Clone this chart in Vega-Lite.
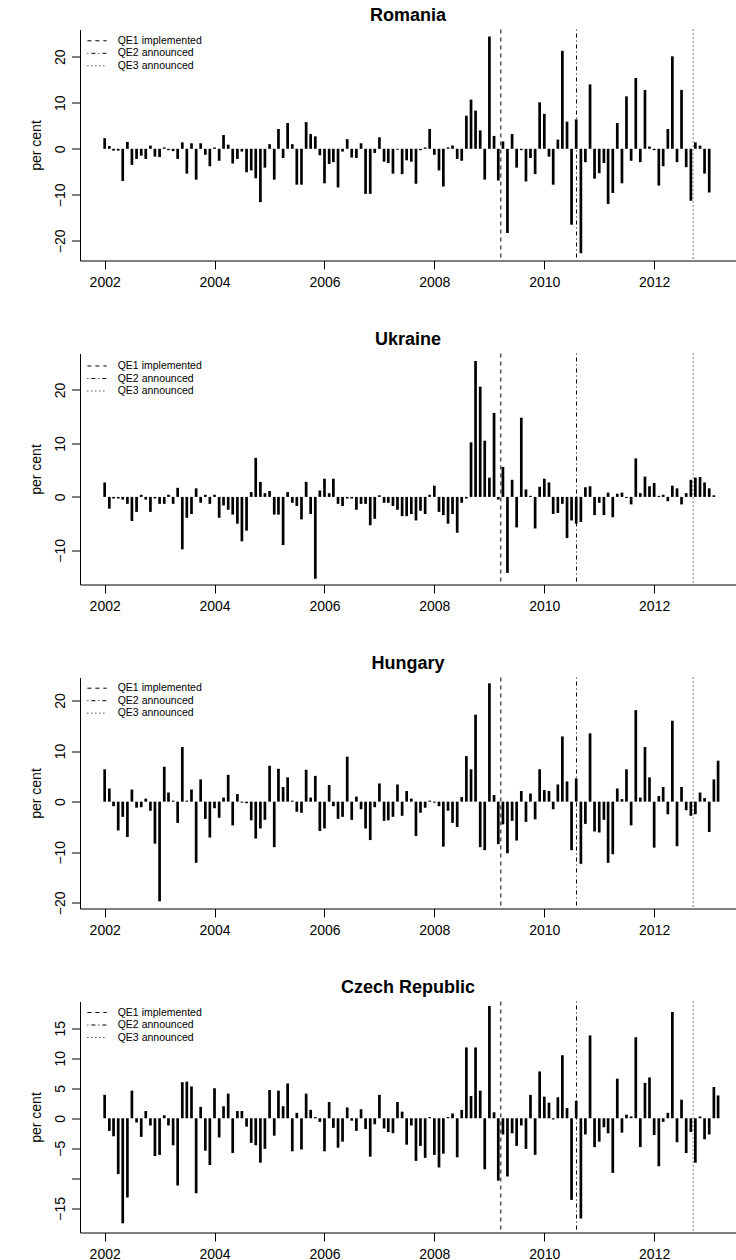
{
"$schema": "https://vega.github.io/schema/vega-lite/v6.json",
"padding": {"left": 29, "top": 6.5, "right": 0, "bottom": 0},
"background": "white",
"config": {
  "font": "Liberation Sans",
  "view": {"stroke": null},
  "axis": {"grid": false, "domainColor": "black", "tickColor": "black", "labelColor": "black", "titleColor": "black", "labelFont": "Liberation Sans", "titleFont": "Liberation Sans", "labelFontSize": 14, "titleFontSize": 14, "titleFontWeight": "normal", "tickSize": 8.5, "domainWidth": 1, "tickWidth": 1},
  "title": {"font": "Liberation Sans", "fontSize": 18, "fontWeight": "bold", "anchor": "middle", "baseline": "alphabetic", "offset": 4, "color": "black"}
},
"datasets": {
"qe": [
{"e": "QE1 implemented", "d": "2009-03-18"},
{"e": "QE2 announced", "d": "2010-08-03"},
{"e": "QE3 announced", "d": "2012-09-16"}
],
"bars": [
{"c":"RO","m":"2002-01","v":2.3},{"c":"RO","m":"2002-02","v":0.6},{"c":"RO","m":"2002-03","v":-0.4},{"c":"RO","m":"2002-04","v":-0.4},{"c":"RO","m":"2002-05","v":-7.0},{"c":"RO","m":"2002-06","v":1.5},{"c":"RO","m":"2002-07","v":-3.5},{"c":"RO","m":"2002-08","v":-2.2},{"c":"RO","m":"2002-09","v":-1.5},{"c":"RO","m":"2002-10","v":-2.2},{"c":"RO","m":"2002-11","v":0.7},{"c":"RO","m":"2002-12","v":-1.7},
{"c":"RO","m":"2003-01","v":-1.8},{"c":"RO","m":"2003-02","v":0.3},{"c":"RO","m":"2003-03","v":-0.3},{"c":"RO","m":"2003-04","v":-0.5},{"c":"RO","m":"2003-05","v":-2.2},{"c":"RO","m":"2003-06","v":1.4},{"c":"RO","m":"2003-07","v":-5.4},{"c":"RO","m":"2003-08","v":1.2},{"c":"RO","m":"2003-09","v":-6.7},{"c":"RO","m":"2003-10","v":1.2},{"c":"RO","m":"2003-11","v":-1.3},{"c":"RO","m":"2003-12","v":-3.8},
{"c":"RO","m":"2004-01","v":0.3},{"c":"RO","m":"2004-02","v":-2.6},{"c":"RO","m":"2004-03","v":3.0},{"c":"RO","m":"2004-04","v":0.9},{"c":"RO","m":"2004-05","v":-3.2},{"c":"RO","m":"2004-06","v":-2.2},{"c":"RO","m":"2004-07","v":-0.6},{"c":"RO","m":"2004-08","v":-5.1},{"c":"RO","m":"2004-09","v":-4.7},{"c":"RO","m":"2004-10","v":-6.4},{"c":"RO","m":"2004-11","v":-11.6},{"c":"RO","m":"2004-12","v":-4.1},
{"c":"RO","m":"2005-01","v":1.0},{"c":"RO","m":"2005-02","v":-6.7},{"c":"RO","m":"2005-03","v":4.3},{"c":"RO","m":"2005-04","v":-2.0},{"c":"RO","m":"2005-05","v":5.6},{"c":"RO","m":"2005-06","v":1.0},{"c":"RO","m":"2005-07","v":-7.8},{"c":"RO","m":"2005-08","v":-7.8},{"c":"RO","m":"2005-09","v":5.8},{"c":"RO","m":"2005-10","v":3.2},{"c":"RO","m":"2005-11","v":2.7},{"c":"RO","m":"2005-12","v":-1.4},
{"c":"RO","m":"2006-01","v":-7.5},{"c":"RO","m":"2006-02","v":-3.3},{"c":"RO","m":"2006-03","v":-2.9},{"c":"RO","m":"2006-04","v":-8.4},{"c":"RO","m":"2006-05","v":-0.6},{"c":"RO","m":"2006-06","v":2.1},{"c":"RO","m":"2006-07","v":-1.9},{"c":"RO","m":"2006-08","v":-2.0},{"c":"RO","m":"2006-09","v":1.2},{"c":"RO","m":"2006-10","v":-9.8},{"c":"RO","m":"2006-11","v":-9.8},{"c":"RO","m":"2006-12","v":-0.9},
{"c":"RO","m":"2007-01","v":2.5},{"c":"RO","m":"2007-02","v":-2.8},{"c":"RO","m":"2007-03","v":-3.1},{"c":"RO","m":"2007-04","v":-5.4},{"c":"RO","m":"2007-05","v":-0.2},{"c":"RO","m":"2007-06","v":-5.5},{"c":"RO","m":"2007-07","v":-2.5},{"c":"RO","m":"2007-08","v":-2.8},{"c":"RO","m":"2007-09","v":-7.6},{"c":"RO","m":"2007-10","v":-0.3},{"c":"RO","m":"2007-11","v":0.3},{"c":"RO","m":"2007-12","v":4.3},
{"c":"RO","m":"2008-01","v":-1.3},{"c":"RO","m":"2008-02","v":-4.7},{"c":"RO","m":"2008-03","v":-8.2},{"c":"RO","m":"2008-04","v":0.3},{"c":"RO","m":"2008-05","v":0.7},{"c":"RO","m":"2008-06","v":-2.2},{"c":"RO","m":"2008-07","v":-2.6},{"c":"RO","m":"2008-08","v":7.2},{"c":"RO","m":"2008-09","v":10.7},{"c":"RO","m":"2008-10","v":8.3},{"c":"RO","m":"2008-11","v":4.0},{"c":"RO","m":"2008-12","v":-6.7},
{"c":"RO","m":"2009-01","v":24.4},{"c":"RO","m":"2009-02","v":2.8},{"c":"RO","m":"2009-03","v":-6.9},{"c":"RO","m":"2009-04","v":1.6},{"c":"RO","m":"2009-05","v":-18.3},{"c":"RO","m":"2009-06","v":3.2},{"c":"RO","m":"2009-07","v":-4.1},{"c":"RO","m":"2009-08","v":-0.3},{"c":"RO","m":"2009-09","v":-7.1},{"c":"RO","m":"2009-10","v":-2.0},{"c":"RO","m":"2009-11","v":-5.5},{"c":"RO","m":"2009-12","v":10.1},
{"c":"RO","m":"2010-01","v":7.6},{"c":"RO","m":"2010-02","v":-1.7},{"c":"RO","m":"2010-03","v":-7.8},{"c":"RO","m":"2010-04","v":2.0},{"c":"RO","m":"2010-05","v":21.3},{"c":"RO","m":"2010-06","v":5.9},{"c":"RO","m":"2010-07","v":-16.5},{"c":"RO","m":"2010-08","v":6.4},{"c":"RO","m":"2010-09","v":-22.7},{"c":"RO","m":"2010-10","v":-2.9},{"c":"RO","m":"2010-11","v":14.0},{"c":"RO","m":"2010-12","v":-6.5},
{"c":"RO","m":"2011-01","v":-5.3},{"c":"RO","m":"2011-02","v":-3.1},{"c":"RO","m":"2011-03","v":-12.0},{"c":"RO","m":"2011-04","v":-9.6},{"c":"RO","m":"2011-05","v":5.6},{"c":"RO","m":"2011-06","v":-7.5},{"c":"RO","m":"2011-07","v":11.4},{"c":"RO","m":"2011-08","v":-2.6},{"c":"RO","m":"2011-09","v":15.4},{"c":"RO","m":"2011-10","v":-2.9},{"c":"RO","m":"2011-11","v":12.8},{"c":"RO","m":"2011-12","v":0.5},
{"c":"RO","m":"2012-01","v":-0.3},{"c":"RO","m":"2012-02","v":-8.0},{"c":"RO","m":"2012-03","v":-3.8},{"c":"RO","m":"2012-04","v":4.3},{"c":"RO","m":"2012-05","v":20.1},{"c":"RO","m":"2012-06","v":-2.9},{"c":"RO","m":"2012-07","v":12.8},{"c":"RO","m":"2012-08","v":-4.0},{"c":"RO","m":"2012-09","v":-11.3},{"c":"RO","m":"2012-10","v":1.4},{"c":"RO","m":"2012-11","v":0.7},{"c":"RO","m":"2012-12","v":-5.4},
{"c":"RO","m":"2013-01","v":-9.5},
{"c":"UA","m":"2002-01","v":2.7},{"c":"UA","m":"2002-02","v":-2.2},{"c":"UA","m":"2002-03","v":-0.3},{"c":"UA","m":"2002-04","v":-0.3},{"c":"UA","m":"2002-05","v":-0.5},{"c":"UA","m":"2002-06","v":-1.3},{"c":"UA","m":"2002-07","v":-4.5},{"c":"UA","m":"2002-08","v":-2.8},{"c":"UA","m":"2002-09","v":0.4},{"c":"UA","m":"2002-10","v":-0.5},{"c":"UA","m":"2002-11","v":-2.8},{"c":"UA","m":"2002-12","v":-0.3},
{"c":"UA","m":"2003-01","v":-1.3},{"c":"UA","m":"2003-02","v":-1.3},{"c":"UA","m":"2003-03","v":0.4},{"c":"UA","m":"2003-04","v":-1.3},{"c":"UA","m":"2003-05","v":1.7},{"c":"UA","m":"2003-06","v":-9.8},{"c":"UA","m":"2003-07","v":-3.9},{"c":"UA","m":"2003-08","v":-3.2},{"c":"UA","m":"2003-09","v":1.6},{"c":"UA","m":"2003-10","v":-1.1},{"c":"UA","m":"2003-11","v":0.4},{"c":"UA","m":"2003-12","v":-1.3},
{"c":"UA","m":"2004-01","v":0.4},{"c":"UA","m":"2004-02","v":-3.9},{"c":"UA","m":"2004-03","v":-1.6},{"c":"UA","m":"2004-04","v":-2.4},{"c":"UA","m":"2004-05","v":-3.3},{"c":"UA","m":"2004-06","v":-5.0},{"c":"UA","m":"2004-07","v":-8.3},{"c":"UA","m":"2004-08","v":-6.3},{"c":"UA","m":"2004-09","v":0.9},{"c":"UA","m":"2004-10","v":7.3},{"c":"UA","m":"2004-11","v":2.8},{"c":"UA","m":"2004-12","v":0.7},
{"c":"UA","m":"2005-01","v":1.1},{"c":"UA","m":"2005-02","v":-3.3},{"c":"UA","m":"2005-03","v":-3.3},{"c":"UA","m":"2005-04","v":-9.0},{"c":"UA","m":"2005-05","v":0.9},{"c":"UA","m":"2005-06","v":-1.1},{"c":"UA","m":"2005-07","v":-1.7},{"c":"UA","m":"2005-08","v":-4.2},{"c":"UA","m":"2005-09","v":2.8},{"c":"UA","m":"2005-10","v":-3.2},{"c":"UA","m":"2005-11","v":-15.3},{"c":"UA","m":"2005-12","v":1.2},
{"c":"UA","m":"2006-01","v":3.4},{"c":"UA","m":"2006-02","v":0.7},{"c":"UA","m":"2006-03","v":3.4},{"c":"UA","m":"2006-04","v":-1.3},{"c":"UA","m":"2006-05","v":-1.7},{"c":"UA","m":"2006-06","v":-0.3},{"c":"UA","m":"2006-07","v":-0.3},{"c":"UA","m":"2006-08","v":-2.4},{"c":"UA","m":"2006-09","v":-1.3},{"c":"UA","m":"2006-10","v":-1.3},{"c":"UA","m":"2006-11","v":-5.3},{"c":"UA","m":"2006-12","v":-4.1},
{"c":"UA","m":"2007-01","v":0.3},{"c":"UA","m":"2007-02","v":-1.1},{"c":"UA","m":"2007-03","v":-1.1},{"c":"UA","m":"2007-04","v":-1.7},{"c":"UA","m":"2007-05","v":-2.4},{"c":"UA","m":"2007-06","v":-3.6},{"c":"UA","m":"2007-07","v":-3.6},{"c":"UA","m":"2007-08","v":-3.2},{"c":"UA","m":"2007-09","v":-4.4},{"c":"UA","m":"2007-10","v":-2.6},{"c":"UA","m":"2007-11","v":-3.2},{"c":"UA","m":"2007-12","v":0.4},
{"c":"UA","m":"2008-01","v":2.1},{"c":"UA","m":"2008-02","v":-2.8},{"c":"UA","m":"2008-03","v":-3.4},{"c":"UA","m":"2008-04","v":-5.0},{"c":"UA","m":"2008-05","v":-3.2},{"c":"UA","m":"2008-06","v":-6.7},{"c":"UA","m":"2008-07","v":-1.1},{"c":"UA","m":"2008-08","v":-0.3},{"c":"UA","m":"2008-09","v":10.2},{"c":"UA","m":"2008-10","v":25.4},{"c":"UA","m":"2008-11","v":20.6},{"c":"UA","m":"2008-12","v":10.5},
{"c":"UA","m":"2009-01","v":3.6},{"c":"UA","m":"2009-02","v":15.7},{"c":"UA","m":"2009-03","v":-0.5},{"c":"UA","m":"2009-04","v":5.6},{"c":"UA","m":"2009-05","v":-14.2},{"c":"UA","m":"2009-06","v":3.2},{"c":"UA","m":"2009-07","v":-5.7},{"c":"UA","m":"2009-08","v":14.8},{"c":"UA","m":"2009-09","v":1.4},{"c":"UA","m":"2009-10","v":0.2},{"c":"UA","m":"2009-11","v":-5.9},{"c":"UA","m":"2009-12","v":1.9},
{"c":"UA","m":"2010-01","v":3.4},{"c":"UA","m":"2010-02","v":2.7},{"c":"UA","m":"2010-03","v":-3.2},{"c":"UA","m":"2010-04","v":-3.0},{"c":"UA","m":"2010-05","v":-1.3},{"c":"UA","m":"2010-06","v":-7.7},{"c":"UA","m":"2010-07","v":-4.4},{"c":"UA","m":"2010-08","v":-5.0},{"c":"UA","m":"2010-09","v":-4.7},{"c":"UA","m":"2010-10","v":1.8},{"c":"UA","m":"2010-11","v":2.0},{"c":"UA","m":"2010-12","v":-3.4},
{"c":"UA","m":"2011-01","v":-1.1},{"c":"UA","m":"2011-02","v":-3.4},{"c":"UA","m":"2011-03","v":0.8},{"c":"UA","m":"2011-04","v":-3.8},{"c":"UA","m":"2011-05","v":0.6},{"c":"UA","m":"2011-06","v":0.8},{"c":"UA","m":"2011-07","v":-0.2},{"c":"UA","m":"2011-08","v":-1.4},{"c":"UA","m":"2011-09","v":7.2},{"c":"UA","m":"2011-10","v":0.7},{"c":"UA","m":"2011-11","v":3.8},{"c":"UA","m":"2011-12","v":2.0},
{"c":"UA","m":"2012-01","v":2.6},{"c":"UA","m":"2012-02","v":0.2},{"c":"UA","m":"2012-03","v":0.4},{"c":"UA","m":"2012-04","v":-0.8},{"c":"UA","m":"2012-05","v":2.1},{"c":"UA","m":"2012-06","v":1.6},{"c":"UA","m":"2012-07","v":-1.4},{"c":"UA","m":"2012-08","v":0.7},{"c":"UA","m":"2012-09","v":3.2},{"c":"UA","m":"2012-10","v":3.6},{"c":"UA","m":"2012-11","v":3.7},{"c":"UA","m":"2012-12","v":2.7},
{"c":"UA","m":"2013-01","v":1.6},{"c":"UA","m":"2013-02","v":0.3},
{"c":"HU","m":"2002-01","v":6.4},{"c":"HU","m":"2002-02","v":2.6},{"c":"HU","m":"2002-03","v":-0.9},{"c":"HU","m":"2002-04","v":-5.7},{"c":"HU","m":"2002-05","v":-3.0},{"c":"HU","m":"2002-06","v":-7.0},{"c":"HU","m":"2002-07","v":2.4},{"c":"HU","m":"2002-08","v":-1.2},{"c":"HU","m":"2002-09","v":-1.1},{"c":"HU","m":"2002-10","v":0.6},{"c":"HU","m":"2002-11","v":-1.8},{"c":"HU","m":"2002-12","v":-8.3},
{"c":"HU","m":"2003-01","v":-19.7},{"c":"HU","m":"2003-02","v":6.9},{"c":"HU","m":"2003-03","v":1.8},{"c":"HU","m":"2003-04","v":0.2},{"c":"HU","m":"2003-05","v":-4.2},{"c":"HU","m":"2003-06","v":10.8},{"c":"HU","m":"2003-07","v":0.2},{"c":"HU","m":"2003-08","v":2.4},{"c":"HU","m":"2003-09","v":-12.1},{"c":"HU","m":"2003-10","v":4.4},{"c":"HU","m":"2003-11","v":-3.4},{"c":"HU","m":"2003-12","v":-7.1},
{"c":"HU","m":"2004-01","v":-1.3},{"c":"HU","m":"2004-02","v":-3.2},{"c":"HU","m":"2004-03","v":0.8},{"c":"HU","m":"2004-04","v":5.3},{"c":"HU","m":"2004-05","v":-4.7},{"c":"HU","m":"2004-06","v":1.5},{"c":"HU","m":"2004-07","v":-0.2},{"c":"HU","m":"2004-08","v":-0.3},{"c":"HU","m":"2004-09","v":-3.7},{"c":"HU","m":"2004-10","v":-7.3},{"c":"HU","m":"2004-11","v":-5.3},{"c":"HU","m":"2004-12","v":-3.6},
{"c":"HU","m":"2005-01","v":7.1},{"c":"HU","m":"2005-02","v":-9.0},{"c":"HU","m":"2005-03","v":6.5},{"c":"HU","m":"2005-04","v":2.9},{"c":"HU","m":"2005-05","v":4.8},{"c":"HU","m":"2005-06","v":0.2},{"c":"HU","m":"2005-07","v":-2.0},{"c":"HU","m":"2005-08","v":-2.2},{"c":"HU","m":"2005-09","v":6.3},{"c":"HU","m":"2005-10","v":0.8},{"c":"HU","m":"2005-11","v":5.1},{"c":"HU","m":"2005-12","v":-5.8},
{"c":"HU","m":"2006-01","v":-5.3},{"c":"HU","m":"2006-02","v":3.3},{"c":"HU","m":"2006-03","v":-0.9},{"c":"HU","m":"2006-04","v":-3.4},{"c":"HU","m":"2006-05","v":-3.0},{"c":"HU","m":"2006-06","v":8.9},{"c":"HU","m":"2006-07","v":-3.6},{"c":"HU","m":"2006-08","v":1.0},{"c":"HU","m":"2006-09","v":-1.5},{"c":"HU","m":"2006-10","v":-5.3},{"c":"HU","m":"2006-11","v":-7.6},{"c":"HU","m":"2006-12","v":-1.1},
{"c":"HU","m":"2007-01","v":3.6},{"c":"HU","m":"2007-02","v":-3.8},{"c":"HU","m":"2007-03","v":-3.7},{"c":"HU","m":"2007-04","v":-3.0},{"c":"HU","m":"2007-05","v":3.4},{"c":"HU","m":"2007-06","v":-2.8},{"c":"HU","m":"2007-07","v":2.1},{"c":"HU","m":"2007-08","v":0.6},{"c":"HU","m":"2007-09","v":-6.8},{"c":"HU","m":"2007-10","v":-2.2},{"c":"HU","m":"2007-11","v":-1.2},{"c":"HU","m":"2007-12","v":0.2},
{"c":"HU","m":"2008-01","v":-0.2},{"c":"HU","m":"2008-02","v":-0.9},{"c":"HU","m":"2008-03","v":-8.9},{"c":"HU","m":"2008-04","v":-1.8},{"c":"HU","m":"2008-05","v":-4.2},{"c":"HU","m":"2008-06","v":-5.0},{"c":"HU","m":"2008-07","v":0.9},{"c":"HU","m":"2008-08","v":9.0},{"c":"HU","m":"2008-09","v":6.4},{"c":"HU","m":"2008-10","v":17.2},{"c":"HU","m":"2008-11","v":-9.0},{"c":"HU","m":"2008-12","v":-9.6},
{"c":"HU","m":"2009-01","v":23.4},{"c":"HU","m":"2009-02","v":1.3},{"c":"HU","m":"2009-03","v":-8.4},{"c":"HU","m":"2009-04","v":-4.5},{"c":"HU","m":"2009-05","v":-10.2},{"c":"HU","m":"2009-06","v":-3.8},{"c":"HU","m":"2009-07","v":-7.7},{"c":"HU","m":"2009-08","v":2.1},{"c":"HU","m":"2009-09","v":-4.0},{"c":"HU","m":"2009-10","v":1.6},{"c":"HU","m":"2009-11","v":-3.5},{"c":"HU","m":"2009-12","v":6.4},
{"c":"HU","m":"2010-01","v":2.3},{"c":"HU","m":"2010-02","v":2.1},{"c":"HU","m":"2010-03","v":-1.5},{"c":"HU","m":"2010-04","v":3.4},{"c":"HU","m":"2010-05","v":12.9},{"c":"HU","m":"2010-06","v":4.0},{"c":"HU","m":"2010-07","v":-9.6},{"c":"HU","m":"2010-08","v":4.6},{"c":"HU","m":"2010-09","v":-12.3},{"c":"HU","m":"2010-10","v":-4.4},{"c":"HU","m":"2010-11","v":13.5},{"c":"HU","m":"2010-12","v":-5.9},
{"c":"HU","m":"2011-01","v":-6.1},{"c":"HU","m":"2011-02","v":-3.6},{"c":"HU","m":"2011-03","v":-12.1},{"c":"HU","m":"2011-04","v":-10.4},{"c":"HU","m":"2011-05","v":2.6},{"c":"HU","m":"2011-06","v":0.5},{"c":"HU","m":"2011-07","v":6.4},{"c":"HU","m":"2011-08","v":-4.7},{"c":"HU","m":"2011-09","v":18.1},{"c":"HU","m":"2011-10","v":0.8},{"c":"HU","m":"2011-11","v":10.8},{"c":"HU","m":"2011-12","v":4.8},
{"c":"HU","m":"2012-01","v":-9.1},{"c":"HU","m":"2012-02","v":1.1},{"c":"HU","m":"2012-03","v":2.9},{"c":"HU","m":"2012-04","v":-2.5},{"c":"HU","m":"2012-05","v":16.0},{"c":"HU","m":"2012-06","v":-8.8},{"c":"HU","m":"2012-07","v":2.9},{"c":"HU","m":"2012-08","v":-1.7},{"c":"HU","m":"2012-09","v":-2.8},{"c":"HU","m":"2012-10","v":-2.5},{"c":"HU","m":"2012-11","v":1.8},{"c":"HU","m":"2012-12","v":0.7},
{"c":"HU","m":"2013-01","v":-6.0},{"c":"HU","m":"2013-02","v":4.4},{"c":"HU","m":"2013-03","v":8.1},
{"c":"CZ","m":"2002-01","v":3.9},{"c":"CZ","m":"2002-02","v":-2.1},{"c":"CZ","m":"2002-03","v":-3.0},{"c":"CZ","m":"2002-04","v":-9.3},{"c":"CZ","m":"2002-05","v":-17.5},{"c":"CZ","m":"2002-06","v":-13.2},{"c":"CZ","m":"2002-07","v":4.6},{"c":"CZ","m":"2002-08","v":-0.7},{"c":"CZ","m":"2002-09","v":-3.1},{"c":"CZ","m":"2002-10","v":1.2},{"c":"CZ","m":"2002-11","v":-1.2},{"c":"CZ","m":"2002-12","v":-6.3},
{"c":"CZ","m":"2003-01","v":-6.1},{"c":"CZ","m":"2003-02","v":0.5},{"c":"CZ","m":"2003-03","v":-1.2},{"c":"CZ","m":"2003-04","v":-4.5},{"c":"CZ","m":"2003-05","v":-11.2},{"c":"CZ","m":"2003-06","v":6.0},{"c":"CZ","m":"2003-07","v":6.1},{"c":"CZ","m":"2003-08","v":5.3},{"c":"CZ","m":"2003-09","v":-12.5},{"c":"CZ","m":"2003-10","v":1.9},{"c":"CZ","m":"2003-11","v":-5.4},{"c":"CZ","m":"2003-12","v":-7.8},
{"c":"CZ","m":"2004-01","v":5.0},{"c":"CZ","m":"2004-02","v":-3.2},{"c":"CZ","m":"2004-03","v":2.0},{"c":"CZ","m":"2004-04","v":4.1},{"c":"CZ","m":"2004-05","v":-5.8},{"c":"CZ","m":"2004-06","v":1.2},{"c":"CZ","m":"2004-07","v":1.2},{"c":"CZ","m":"2004-08","v":-1.4},{"c":"CZ","m":"2004-09","v":-4.1},{"c":"CZ","m":"2004-10","v":-4.5},{"c":"CZ","m":"2004-11","v":-7.4},{"c":"CZ","m":"2004-12","v":-5.1},
{"c":"CZ","m":"2005-01","v":4.7},{"c":"CZ","m":"2005-02","v":-2.9},{"c":"CZ","m":"2005-03","v":4.6},{"c":"CZ","m":"2005-04","v":2.0},{"c":"CZ","m":"2005-05","v":5.8},{"c":"CZ","m":"2005-06","v":-5.5},{"c":"CZ","m":"2005-07","v":0.9},{"c":"CZ","m":"2005-08","v":-5.2},{"c":"CZ","m":"2005-09","v":4.1},{"c":"CZ","m":"2005-10","v":1.4},{"c":"CZ","m":"2005-11","v":0.2},{"c":"CZ","m":"2005-12","v":-0.6},
{"c":"CZ","m":"2006-01","v":-5.5},{"c":"CZ","m":"2006-02","v":2.7},{"c":"CZ","m":"2006-03","v":-1.6},{"c":"CZ","m":"2006-04","v":-4.9},{"c":"CZ","m":"2006-05","v":-3.9},{"c":"CZ","m":"2006-06","v":1.8},{"c":"CZ","m":"2006-07","v":-0.4},{"c":"CZ","m":"2006-08","v":-2.1},{"c":"CZ","m":"2006-09","v":1.5},{"c":"CZ","m":"2006-10","v":-1.8},{"c":"CZ","m":"2006-11","v":-6.4},{"c":"CZ","m":"2006-12","v":-1.0},
{"c":"CZ","m":"2007-01","v":3.9},{"c":"CZ","m":"2007-02","v":-1.7},{"c":"CZ","m":"2007-03","v":-2.3},{"c":"CZ","m":"2007-04","v":-2.5},{"c":"CZ","m":"2007-05","v":2.7},{"c":"CZ","m":"2007-06","v":1.1},{"c":"CZ","m":"2007-07","v":-4.4},{"c":"CZ","m":"2007-08","v":-1.2},{"c":"CZ","m":"2007-09","v":-7.1},{"c":"CZ","m":"2007-10","v":-4.6},{"c":"CZ","m":"2007-11","v":-6.6},{"c":"CZ","m":"2007-12","v":0.2},
{"c":"CZ","m":"2008-01","v":-6.1},{"c":"CZ","m":"2008-02","v":-8.2},{"c":"CZ","m":"2008-03","v":-5.9},{"c":"CZ","m":"2008-04","v":0.2},{"c":"CZ","m":"2008-05","v":0.8},{"c":"CZ","m":"2008-06","v":-6.5},{"c":"CZ","m":"2008-07","v":1.4},{"c":"CZ","m":"2008-08","v":11.8},{"c":"CZ","m":"2008-09","v":3.7},{"c":"CZ","m":"2008-10","v":11.8},{"c":"CZ","m":"2008-11","v":4.6},{"c":"CZ","m":"2008-12","v":-8.5},
{"c":"CZ","m":"2009-01","v":18.7},{"c":"CZ","m":"2009-02","v":1.0},{"c":"CZ","m":"2009-03","v":-10.4},{"c":"CZ","m":"2009-04","v":-2.7},{"c":"CZ","m":"2009-05","v":-9.7},{"c":"CZ","m":"2009-06","v":-2.5},{"c":"CZ","m":"2009-07","v":-4.6},{"c":"CZ","m":"2009-08","v":-1.2},{"c":"CZ","m":"2009-09","v":-5.1},{"c":"CZ","m":"2009-10","v":3.9},{"c":"CZ","m":"2009-11","v":-6.1},{"c":"CZ","m":"2009-12","v":7.8},
{"c":"CZ","m":"2010-01","v":3.6},{"c":"CZ","m":"2010-02","v":2.6},{"c":"CZ","m":"2010-03","v":-0.2},{"c":"CZ","m":"2010-04","v":3.5},{"c":"CZ","m":"2010-05","v":10.5},{"c":"CZ","m":"2010-06","v":1.7},{"c":"CZ","m":"2010-07","v":-13.6},{"c":"CZ","m":"2010-08","v":2.9},{"c":"CZ","m":"2010-09","v":-16.7},{"c":"CZ","m":"2010-10","v":-2.7},{"c":"CZ","m":"2010-11","v":13.8},{"c":"CZ","m":"2010-12","v":-4.8},
{"c":"CZ","m":"2011-01","v":-3.9},{"c":"CZ","m":"2011-02","v":-1.5},{"c":"CZ","m":"2011-03","v":-2.5},{"c":"CZ","m":"2011-04","v":-9.1},{"c":"CZ","m":"2011-05","v":6.6},{"c":"CZ","m":"2011-06","v":-2.4},{"c":"CZ","m":"2011-07","v":0.6},{"c":"CZ","m":"2011-08","v":0.3},{"c":"CZ","m":"2011-09","v":13.5},{"c":"CZ","m":"2011-10","v":-4.8},{"c":"CZ","m":"2011-11","v":5.9},{"c":"CZ","m":"2011-12","v":6.8},
{"c":"CZ","m":"2012-01","v":-2.8},{"c":"CZ","m":"2012-02","v":-8.0},{"c":"CZ","m":"2012-03","v":-0.6},{"c":"CZ","m":"2012-04","v":0.9},{"c":"CZ","m":"2012-05","v":17.7},{"c":"CZ","m":"2012-06","v":-4.0},{"c":"CZ","m":"2012-07","v":3.1},{"c":"CZ","m":"2012-08","v":-5.8},{"c":"CZ","m":"2012-09","v":-2.3},{"c":"CZ","m":"2012-10","v":-7.4},{"c":"CZ","m":"2012-11","v":0.3},{"c":"CZ","m":"2012-12","v":-3.5},
{"c":"CZ","m":"2013-01","v":-2.7},{"c":"CZ","m":"2013-02","v":5.2},{"c":"CZ","m":"2013-03","v":3.8}
]
},
"spacing": 93,
"bounds": "flush",
"resolve": {"scale": {"x": "independent", "y": "independent", "strokeDash": "independent"}, "legend": {"strokeDash": "independent"}},
"vconcat": [
{
  "title": {"text": "Romania"},
  "width": 656, "height": 231,
  "layer": [
    {"data": {"name": "bars"}, "transform": [{"filter": "datum.c === 'RO'"}],
     "mark": {"type": "rule", "strokeWidth": 2.7, "color": "black", "strokeCap": "butt"},
     "encoding": {
       "x": {"field": "m", "type": "temporal", "scale": {"type": "utc", "domain": [{"year": 2001, "month": 7, "date": 21, "utc": true}, {"year": 2013, "month": 6, "date": 28, "utc": true}]},
             "axis": {"values": [{"year": 2002, "utc": true}, {"year": 2004, "utc": true}, {"year": 2006, "utc": true}, {"year": 2008, "utc": true}, {"year": 2010, "utc": true}, {"year": 2012, "utc": true}], "format": "%Y", "formatType": "utc", "title": null, "labelPadding": 6.5, "labelFlush": false, "labelOverlap": false, "labelBaseline": "top"}},
       "y": {"field": "v", "type": "quantitative", "scale": {"domain": [-24.28, 25.93], "nice": false, "zero": false},
             "axis": {"values": [-20, -10, 0, 10, 20], "title": "per cent", "labelAngle": -90, "labelAlign": "center", "labelBaseline": "bottom", "labelPadding": 4, "titlePadding": 10.5}},
       "y2": {"datum": 0}
     }},
    {"data": {"name": "qe"},
     "mark": {"type": "rule", "strokeWidth": 1, "color": "black"},
     "encoding": {
       "x": {"field": "d", "type": "temporal", "scale": {"type": "utc", "domain": [{"year": 2001, "month": 7, "date": 21, "utc": true}, {"year": 2013, "month": 6, "date": 28, "utc": true}]}},
       "strokeDash": {"field": "e", "type": "nominal", "scale": {"domain": ["QE1 implemented", "QE2 announced", "QE3 announced"], "range": [[4, 4], [1, 3, 4, 3], [1, 3]]},
         "legend": {"title": null, "orient": "none", "legendX": 11, "legendY": 5.3, "padding": 0, "labelFont": "Liberation Sans", "labelFontSize": 10.5, "labelColor": "black", "symbolType": "M-1.75,0H1.75", "symbolSize": 121, "symbolStrokeWidth": 1, "symbolStrokeColor": "black", "labelOffset": 14.7, "rowPadding": 0.5, "labelLimit": 0}}
     }}
  ]
},
{
  "title": {"text": "Ukraine"},
  "width": 656, "height": 231,
  "layer": [
    {"data": {"name": "bars"}, "transform": [{"filter": "datum.c === 'UA'"}],
     "mark": {"type": "rule", "strokeWidth": 2.7, "color": "black", "strokeCap": "butt"},
     "encoding": {
       "x": {"field": "m", "type": "temporal", "scale": {"type": "utc", "domain": [{"year": 2001, "month": 7, "date": 21, "utc": true}, {"year": 2013, "month": 6, "date": 28, "utc": true}]},
             "axis": {"values": [{"year": 2002, "utc": true}, {"year": 2004, "utc": true}, {"year": 2006, "utc": true}, {"year": 2008, "utc": true}, {"year": 2010, "utc": true}, {"year": 2012, "utc": true}], "format": "%Y", "formatType": "utc", "title": null, "labelPadding": 6.5, "labelFlush": false, "labelOverlap": false, "labelBaseline": "top"}},
       "y": {"field": "v", "type": "quantitative", "scale": {"domain": [-16.37, 26.8], "nice": false, "zero": false},
             "axis": {"values": [-10, 0, 10, 20], "title": "per cent", "labelAngle": -90, "labelAlign": "center", "labelBaseline": "bottom", "labelPadding": 4, "titlePadding": 10.5}},
       "y2": {"datum": 0}
     }},
    {"data": {"name": "qe"},
     "mark": {"type": "rule", "strokeWidth": 1, "color": "black"},
     "encoding": {
       "x": {"field": "d", "type": "temporal", "scale": {"type": "utc", "domain": [{"year": 2001, "month": 7, "date": 21, "utc": true}, {"year": 2013, "month": 6, "date": 28, "utc": true}]}},
       "strokeDash": {"field": "e", "type": "nominal", "scale": {"domain": ["QE1 implemented", "QE2 announced", "QE3 announced"], "range": [[4, 4], [1, 3, 4, 3], [1, 3]]},
         "legend": {"title": null, "orient": "none", "legendX": 11, "legendY": 6.5, "padding": 0, "labelFont": "Liberation Sans", "labelFontSize": 10.5, "labelColor": "black", "symbolType": "M-1.75,0H1.75", "symbolSize": 121, "symbolStrokeWidth": 1, "symbolStrokeColor": "black", "labelOffset": 14.7, "rowPadding": 0.5, "labelLimit": 0}}
     }}
  ]
},
{
  "title": {"text": "Hungary"},
  "width": 656, "height": 231,
  "layer": [
    {"data": {"name": "bars"}, "transform": [{"filter": "datum.c === 'HU'"}],
     "mark": {"type": "rule", "strokeWidth": 2.7, "color": "black", "strokeCap": "butt"},
     "encoding": {
       "x": {"field": "m", "type": "temporal", "scale": {"type": "utc", "domain": [{"year": 2001, "month": 7, "date": 21, "utc": true}, {"year": 2013, "month": 6, "date": 28, "utc": true}]},
             "axis": {"values": [{"year": 2002, "utc": true}, {"year": 2004, "utc": true}, {"year": 2006, "utc": true}, {"year": 2008, "utc": true}, {"year": 2010, "utc": true}, {"year": 2012, "utc": true}], "format": "%Y", "formatType": "utc", "title": null, "labelPadding": 6.5, "labelFlush": false, "labelOverlap": false, "labelBaseline": "top"}},
       "y": {"field": "v", "type": "quantitative", "scale": {"domain": [-21.13, 24.55], "nice": false, "zero": false},
             "axis": {"values": [-20, -10, 0, 10, 20], "title": "per cent", "labelAngle": -90, "labelAlign": "center", "labelBaseline": "bottom", "labelPadding": 4, "titlePadding": 10.5}},
       "y2": {"datum": 0}
     }},
    {"data": {"name": "qe"},
     "mark": {"type": "rule", "strokeWidth": 1, "color": "black"},
     "encoding": {
       "x": {"field": "d", "type": "temporal", "scale": {"type": "utc", "domain": [{"year": 2001, "month": 7, "date": 21, "utc": true}, {"year": 2013, "month": 6, "date": 28, "utc": true}]}},
       "strokeDash": {"field": "e", "type": "nominal", "scale": {"domain": ["QE1 implemented", "QE2 announced", "QE3 announced"], "range": [[4, 4], [1, 3, 4, 3], [1, 3]]},
         "legend": {"title": null, "orient": "none", "legendX": 11, "legendY": 4.7, "padding": 0, "labelFont": "Liberation Sans", "labelFontSize": 10.5, "labelColor": "black", "symbolType": "M-1.75,0H1.75", "symbolSize": 121, "symbolStrokeWidth": 1, "symbolStrokeColor": "black", "labelOffset": 14.7, "rowPadding": 0.5, "labelLimit": 0}}
     }}
  ]
},
{
  "title": {"text": "Czech Republic"},
  "width": 656, "height": 231,
  "layer": [
    {"data": {"name": "bars"}, "transform": [{"filter": "datum.c === 'CZ'"}],
     "mark": {"type": "rule", "strokeWidth": 2.7, "color": "black", "strokeCap": "butt"},
     "encoding": {
       "x": {"field": "m", "type": "temporal", "scale": {"type": "utc", "domain": [{"year": 2001, "month": 7, "date": 21, "utc": true}, {"year": 2013, "month": 6, "date": 28, "utc": true}]},
             "axis": {"values": [{"year": 2002, "utc": true}, {"year": 2004, "utc": true}, {"year": 2006, "utc": true}, {"year": 2008, "utc": true}, {"year": 2010, "utc": true}, {"year": 2012, "utc": true}], "format": "%Y", "formatType": "utc", "title": null, "labelPadding": 6.5, "labelFlush": false, "labelOverlap": false, "labelBaseline": "top"}},
       "y": {"field": "v", "type": "quantitative", "scale": {"domain": [-19.03, 19.45], "nice": false, "zero": false},
             "axis": {"values": [-15, -10, -5, 0, 5, 10, 15], "labelExpr": "datum.value === -10 ? '' : datum.label", "title": "per cent", "labelAngle": -90, "labelAlign": "center", "labelBaseline": "bottom", "labelPadding": 4, "titlePadding": 10.5}},
       "y2": {"datum": 0}
     }},
    {"data": {"name": "qe"},
     "mark": {"type": "rule", "strokeWidth": 1, "color": "black"},
     "encoding": {
       "x": {"field": "d", "type": "temporal", "scale": {"type": "utc", "domain": [{"year": 2001, "month": 7, "date": 21, "utc": true}, {"year": 2013, "month": 6, "date": 28, "utc": true}]}},
       "strokeDash": {"field": "e", "type": "nominal", "scale": {"domain": ["QE1 implemented", "QE2 announced", "QE3 announced"], "range": [[4, 4], [1, 3, 4, 3], [1, 3]]},
         "legend": {"title": null, "orient": "none", "legendX": 11, "legendY": 5.0, "padding": 0, "labelFont": "Liberation Sans", "labelFontSize": 10.5, "labelColor": "black", "symbolType": "M-1.75,0H1.75", "symbolSize": 121, "symbolStrokeWidth": 1, "symbolStrokeColor": "black", "labelOffset": 14.7, "rowPadding": 0.5, "labelLimit": 0}}
     }}
  ]
}
]
}
